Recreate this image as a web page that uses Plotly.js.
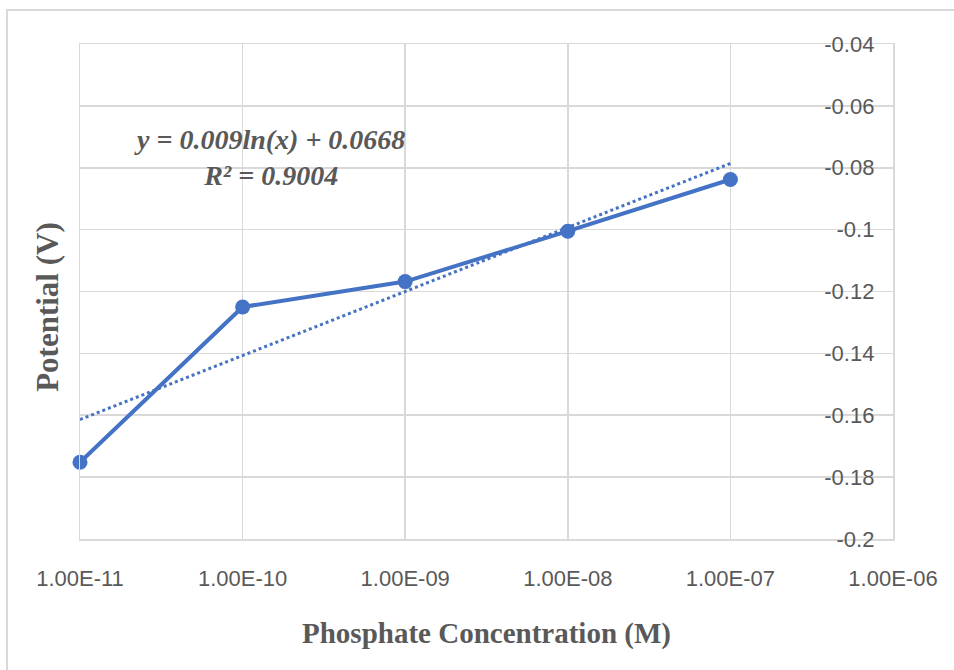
<!DOCTYPE html>
<html>
<head>
<meta charset="utf-8">
<script src="https://cdn.plot.ly/plotly-3.0.1.min.js"></script>
<style>
  html, body { margin: 0; padding: 0; background: #ffffff; }
  #chart { width: 954px; height: 670px; position: absolute; left: 0; top: 0; }
  #frame { position: absolute; left: 6px; top: 9px; width: 1000px; height: 700px;
           border-left: 2px solid #d9d9d9; border-top: 2px solid #d9d9d9; pointer-events: none; }
</style>
</head>
<body>
<div id="chart"></div>
<div id="frame"></div>
<script>
// Data
const concentrations = [1e-11, 1e-10, 1e-9, 1e-8, 1e-7];
const potentials = [-0.1752, -0.1250, -0.1168, -0.1005, -0.0838];
// Logarithmic trendline endpoints (as drawn)
const trendX = [1e-11, 1e-7];
const trendY = [-0.1614, -0.0786];
const xTickVals = [1e-11, 1e-10, 1e-9, 1e-8, 1e-7, 1e-6];
const xTickText = ['1.00E-11', '1.00E-10', '1.00E-09', '1.00E-08', '1.00E-07', '1.00E-06'];
const yTickVals = [-0.04, -0.06, -0.08, -0.1, -0.12, -0.14, -0.16, -0.18, -0.2];
const yTickText = ['-0.04', '-0.06', '-0.08', '-0.1', '-0.12', '-0.14', '-0.16', '-0.18', '-0.2'];
const equationText = 'y = 0.009ln(x) + 0.0668<br>R² = 0.9004';

const blue = '#4472C4';
const grey = '#595959';
const gridC = '#d9d9d9';

const traces = [
  {
    x: trendX, y: trendY, type: 'scatter', mode: 'lines',
    line: { color: blue, width: 3, dash: 'dot' },
    cliponaxis: false,
    hoverinfo: 'skip', showlegend: false
  },
  {
    x: concentrations, y: potentials, type: 'scatter', mode: 'lines+markers',
    line: { color: blue, width: 4 },
    marker: { color: blue, size: 15 },
    cliponaxis: false,
    showlegend: false
  }
];

const layout = {
  width: 954, height: 670,
  margin: { l: 80, r: 61, t: 44, b: 131, pad: 0 },
  paper_bgcolor: '#ffffff', plot_bgcolor: '#ffffff',
  showlegend: false,
  xaxis: {
    type: 'log',
    range: [-11.00001, -5.99999],
    tickvals: xTickVals, ticktext: xTickText,
    showgrid: true, gridcolor: gridC, gridwidth: 1.5,
    showline: true, mirror: true, linecolor: gridC, linewidth: 1.5,
    zeroline: false, ticks: '',
    ticklabelstandoff: 19,
    ticklabeloverflow: 'allow',
    tickfont: { family: 'Liberation Sans, Arial, sans-serif', size: 22, color: grey },
    title: {
      text: 'Phosphate Concentration (M)',
      font: { family: 'Liberation Serif, Times New Roman, serif', size: 29, color: grey, weight: 'bold' },
      standoff: 33
    },
    automargin: false
  },
  yaxis: {
    side: 'right',
    range: [-0.20001, -0.03999],
    tickvals: yTickVals, ticktext: yTickText,
    ticklabelposition: 'inside',
    ticklabelstandoff: 20,
    ticklabeloverflow: 'allow',
    showgrid: true, gridcolor: gridC, gridwidth: 1.5,
    showline: true, mirror: true, linecolor: gridC, linewidth: 1.5,
    zeroline: false, ticks: '',
    tickfont: { family: 'Liberation Sans, Arial, sans-serif', size: 22, color: grey },
    automargin: false
  },
  annotations: [
    {
      xref: 'paper', yref: 'paper',
      x: -0.04, y: 0.47,
      xanchor: 'center', yanchor: 'middle',
      text: '<b>Potential (V)</b>', textangle: -90, showarrow: false,
      font: { family: 'Liberation Serif, Times New Roman, serif', size: 31, color: grey }
    },
    {
      xref: 'paper', yref: 'paper',
      x: 0.2337, y: 0.7707,
      xanchor: 'center', yanchor: 'middle', align: 'center',
      text: '<b><i>' + equationText + '</i></b>', showarrow: false,
      font: { family: 'Liberation Serif, Times New Roman, serif', size: 28, color: grey }
    }
  ]
};

Plotly.newPlot('chart', traces, layout, { displayModeBar: false, staticPlot: true });
</script>
</body>
</html>
